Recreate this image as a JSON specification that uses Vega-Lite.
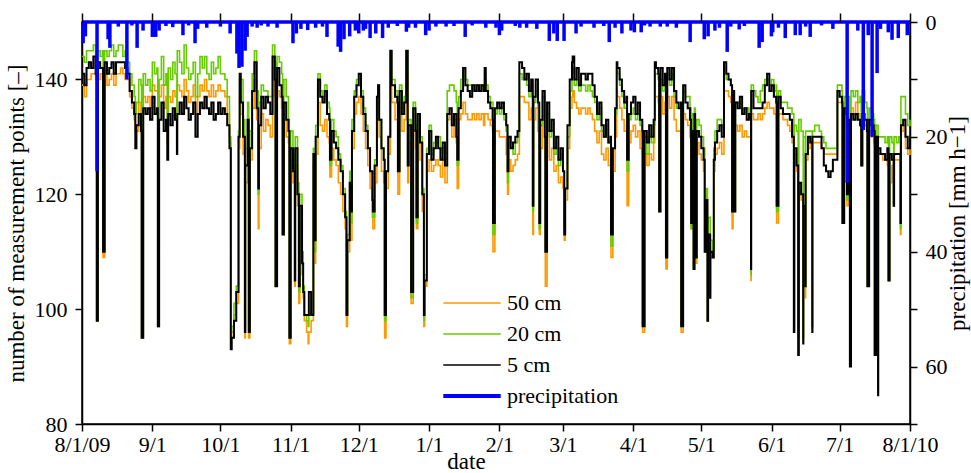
{
"$schema":"https://vega.github.io/schema/vega-lite/v6.json",
"width":828,"height":402,
"autosize":{"type":"none"},
"padding":{"left":82,"top":22,"right":61,"bottom":49},
"background":"white",
"config":{
 "font":"Liberation Serif",
 "view":{"stroke":"black","strokeWidth":1.5},
 "axis":{"labelFont":"Liberation Serif","titleFont":"Liberation Serif","labelFontSize":22,"titleFontSize":23,"titleFontWeight":"normal","labelColor":"black","titleColor":"black","domainColor":"black","tickColor":"black","domainWidth":1.5,"tickWidth":1.5,"tickSize":7,"grid":false,"labelFlush":false,"labelOverlap":false},
 "legend":{"labelFont":"Liberation Serif","labelFontSize":22,"labelColor":"black","orient":"none","legendX":379,"legendY":270,"symbolType":"M-5,0H5","symbolSize":132,"symbolStrokeWidth":1.6,"labelOffset":24,"rowPadding":9}
},
"resolve":{"scale":{"x":"independent","y":"independent"},"axis":{"x":"independent"}},
"layer":[
{
 "data":{"format":{"parse":{"t":"date:'%y%m%d%H'"}},"values":[
{"t":"09080100","o":139,"g":144,"k":141},{"t":"09080200","o":137,"g":143,"k":139},{"t":"09080300","o":140,"g":145,"k":142},{"t":"09080400","o":140,"g":145,"k":143},{"t":"09080500","o":141,"g":145,"k":142},{"t":"09080600","o":141,"g":146,"k":144},{"t":"09080700","o":140,"g":144,"k":141},{"t":"09080712","o":98,"g":98,"k":98},{"t":"09080800","o":140,"g":145,"k":143},{"t":"09080900","o":141,"g":144,"k":142},{"t":"09081000","o":140,"g":145,"k":142},{"t":"09081007","o":109,"g":110,"k":110},{"t":"09081100","o":141,"g":145,"k":143},{"t":"09081200","o":139,"g":144,"k":141},{"t":"09081300","o":140,"g":145,"k":142},{"t":"09081400","o":141,"g":146,"k":143},{"t":"09081500","o":139,"g":144,"k":141},{"t":"09081600","o":141,"g":145,"k":143},{"t":"09081700","o":141,"g":146,"k":143},{"t":"09081800","o":142,"g":146,"k":143},{"t":"09081900","o":141,"g":144,"k":143},{"t":"09082000","o":140,"g":145,"k":142},{"t":"09082100","o":140,"g":143,"k":141},{"t":"09082200","o":137,"g":141,"k":138},{"t":"09082300","o":135,"g":139,"k":136},{"t":"09082400","o":133,"g":137,"k":134},{"t":"09082412","o":131,"g":134,"k":128},{"t":"09082500","o":131,"g":136,"k":132},{"t":"09082600","o":136,"g":140,"k":134},{"t":"09082700","o":134,"g":139,"k":131},{"t":"09082707","o":95,"g":95,"k":95},{"t":"09082800","o":137,"g":141,"k":135},{"t":"09082900","o":136,"g":139,"k":134},{"t":"09083000","o":137,"g":140,"k":135},{"t":"09083100","o":135,"g":138,"k":133},
{"t":"09090100","o":139,"g":143,"k":137},{"t":"09090200","o":138,"g":141,"k":134},{"t":"09090300","o":138,"g":142,"k":135},{"t":"09090310","o":97,"g":97,"k":97},{"t":"09090400","o":137,"g":140,"k":133},{"t":"09090500","o":139,"g":144,"k":136},{"t":"09090600","o":135,"g":139,"k":131},{"t":"09090700","o":137,"g":141,"k":133},{"t":"09090714","o":129,"g":131,"k":126},{"t":"09090800","o":137,"g":142,"k":134},{"t":"09090900","o":136,"g":140,"k":132},{"t":"09091000","o":138,"g":143,"k":135},{"t":"09091100","o":137,"g":141,"k":133},{"t":"09091120","o":130,"g":133,"k":127},{"t":"09091200","o":139,"g":145,"k":134},{"t":"09091300","o":138,"g":143,"k":136},{"t":"09091400","o":137,"g":141,"k":134},{"t":"09091500","o":140,"g":146,"k":137},{"t":"09091600","o":138,"g":142,"k":135},{"t":"09091700","o":136,"g":140,"k":133},{"t":"09091800","o":137,"g":141,"k":134},{"t":"09091900","o":139,"g":143,"k":136},{"t":"09092000","o":134,"g":137,"k":130},{"t":"09092100","o":137,"g":141,"k":134},{"t":"09092200","o":139,"g":144,"k":136},{"t":"09092300","o":138,"g":142,"k":135},{"t":"09092400","o":140,"g":144,"k":137},{"t":"09092500","o":138,"g":141,"k":135},{"t":"09092600","o":137,"g":140,"k":134},{"t":"09092700","o":139,"g":143,"k":136},{"t":"09092800","o":137,"g":141,"k":133},{"t":"09092900","o":138,"g":142,"k":134},{"t":"09093000","o":139,"g":144,"k":136},
{"t":"09100100","o":138,"g":141,"k":134},{"t":"09100200","o":138,"g":141,"k":135},{"t":"09100300","o":137,"g":140,"k":134},{"t":"09100400","o":134,"g":137,"k":132},{"t":"09100500","o":129,"g":130,"k":128},{"t":"09100514","o":95,"g":96,"k":93},{"t":"09100600","o":96,"g":97,"k":95},{"t":"09100700","o":99,"g":101,"k":98},{"t":"09100800","o":101,"g":104,"k":103},{"t":"09100900","o":128,"g":131,"k":130},{"t":"09100912","o":137,"g":140,"k":141},{"t":"09101000","o":134,"g":140,"k":136},{"t":"09101100","o":127,"g":133,"k":130},{"t":"09101119","o":95,"g":97,"k":96},{"t":"09101200","o":122,"g":128,"k":125},{"t":"09101300","o":130,"g":136,"k":133},{"t":"09101312","o":95,"g":97,"k":96},{"t":"09101400","o":126,"g":131,"k":128},{"t":"09101500","o":135,"g":141,"k":138},{"t":"09101600","o":140,"g":145,"k":143},{"t":"09101700","o":133,"g":138,"k":135},{"t":"09101717","o":114,"g":120,"k":121},{"t":"09101800","o":128,"g":136,"k":132},{"t":"09101900","o":134,"g":139,"k":137},{"t":"09102000","o":131,"g":138,"k":135},{"t":"09102100","o":133,"g":138,"k":137},{"t":"09102200","o":132,"g":137,"k":136},{"t":"09102300","o":130,"g":137,"k":134},{"t":"09102400","o":142,"g":146,"k":144},{"t":"09102500","o":137,"g":143,"k":140},{"t":"09102507","o":104,"g":104,"k":104},{"t":"09102600","o":138,"g":144,"k":142},{"t":"09102700","o":137,"g":143,"k":139},{"t":"09102800","o":135,"g":141,"k":137},{"t":"09102810","o":113,"g":113,"k":113},{"t":"09102900","o":133,"g":140,"k":136},{"t":"09103000","o":130,"g":137,"k":133},{"t":"09103100","o":129,"g":133,"k":131},{"t":"09103110","o":94,"g":95,"k":95},
{"t":"09110100","o":126,"g":131,"k":128},{"t":"09110200","o":122,"g":127,"k":124},{"t":"09110219","o":104,"g":106,"k":105},{"t":"09110300","o":125,"g":130,"k":128},{"t":"09110400","o":118,"g":122,"k":120},{"t":"09110414","o":101,"g":103,"k":104},{"t":"09110500","o":115,"g":120,"k":118},{"t":"09110600","o":106,"g":110,"k":108},{"t":"09110612","o":102,"g":104,"k":103},{"t":"09110700","o":98,"g":99,"k":99},{"t":"09110800","o":96,"g":98,"k":99},{"t":"09110817","o":94,"g":97,"k":99},{"t":"09110900","o":96,"g":99,"k":103},{"t":"09111000","o":98,"g":99,"k":99},{"t":"09111100","o":125,"g":128,"k":127},{"t":"09111120","o":108,"g":110,"k":112},{"t":"09111200","o":127,"g":132,"k":130},{"t":"09111300","o":136,"g":141,"k":140},{"t":"09111400","o":132,"g":138,"k":137},{"t":"09111500","o":131,"g":137,"k":136},{"t":"09111600","o":133,"g":139,"k":138},{"t":"09111700","o":130,"g":136,"k":134},{"t":"09111800","o":129,"g":135,"k":133},{"t":"09111807","o":123,"g":125,"k":126},{"t":"09111900","o":128,"g":133,"k":131},{"t":"09112000","o":126,"g":131,"k":129},{"t":"09112100","o":125,"g":130,"k":128},{"t":"09112200","o":122,"g":127,"k":126},{"t":"09112300","o":120,"g":125,"k":124},{"t":"09112400","o":117,"g":121,"k":120},{"t":"09112500","o":114,"g":117,"k":116},{"t":"09112514","o":97,"g":99,"k":99},{"t":"09112600","o":110,"g":113,"k":112},{"t":"09112700","o":119,"g":124,"k":122},{"t":"09112705","o":112,"g":115,"k":117},{"t":"09112800","o":128,"g":133,"k":131},{"t":"09112900","o":134,"g":138,"k":137},{"t":"09113000","o":136,"g":140,"k":139},
{"t":"09120100","o":137,"g":141,"k":141},{"t":"09120200","o":134,"g":138,"k":137},{"t":"09120300","o":131,"g":135,"k":134},{"t":"09120400","o":128,"g":132,"k":131},{"t":"09120500","o":125,"g":128,"k":128},{"t":"09120600","o":121,"g":124,"k":124},{"t":"09120700","o":116,"g":119,"k":119},{"t":"09120705","o":114,"g":116,"k":117},{"t":"09120800","o":122,"g":126,"k":125},{"t":"09120900","o":134,"g":137,"k":137},{"t":"09120912","o":136,"g":139,"k":139},{"t":"09121000","o":130,"g":133,"k":133},{"t":"09121100","o":124,"g":128,"k":128},{"t":"09121200","o":122,"g":126,"k":126},{"t":"09121210","o":95,"g":98,"k":99},{"t":"09121300","o":121,"g":124,"k":124},{"t":"09121400","o":127,"g":130,"k":130},{"t":"09121422","o":140,"g":145,"k":145},{"t":"09121512","o":136,"g":140,"k":139},{"t":"09121600","o":136,"g":140,"k":139},{"t":"09121700","o":133,"g":138,"k":137},{"t":"09121800","o":133,"g":137,"k":136},{"t":"09121806","o":120,"g":124,"k":124},{"t":"09121900","o":135,"g":139,"k":138},{"t":"09122000","o":131,"g":135,"k":134},{"t":"09122100","o":133,"g":137,"k":136},{"t":"09122122","o":141,"g":145,"k":145},{"t":"09122214","o":122,"g":125,"k":125},{"t":"09122300","o":129,"g":133,"k":132},{"t":"09122402","o":101,"g":102,"k":103},{"t":"09122500","o":131,"g":136,"k":135},{"t":"09122600","o":128,"g":132,"k":131},{"t":"09122610","o":114,"g":115,"k":116},{"t":"09122700","o":131,"g":134,"k":134},{"t":"09122800","o":126,"g":130,"k":129},{"t":"09122900","o":117,"g":121,"k":120},{"t":"09122917","o":97,"g":98,"k":99},{"t":"09123000","o":104,"g":106,"k":105},{"t":"09123100","o":124,"g":128,"k":127},
{"t":"10010100","o":126,"g":132,"k":131},{"t":"10010200","o":124,"g":127,"k":126},{"t":"10010300","o":125,"g":129,"k":128},{"t":"10010400","o":126,"g":129,"k":130},{"t":"10010500","o":125,"g":130,"k":128},{"t":"10010600","o":123,"g":128,"k":126},{"t":"10010700","o":126,"g":128,"k":129},{"t":"10010800","o":122,"g":126,"k":125},{"t":"10010900","o":133,"g":138,"k":134},{"t":"10011000","o":134,"g":139,"k":135},{"t":"10011100","o":130,"g":139,"k":132},{"t":"10011200","o":133,"g":138,"k":134},{"t":"10011300","o":129,"g":136,"k":130},{"t":"10011310","o":121,"g":125,"k":126},{"t":"10011400","o":133,"g":137,"k":135},{"t":"10011500","o":134,"g":140,"k":138},{"t":"10011600","o":136,"g":142,"k":142},{"t":"10011700","o":134,"g":140,"k":139},{"t":"10011800","o":133,"g":139,"k":138},{"t":"10011900","o":133,"g":139,"k":137},{"t":"10012000","o":134,"g":138,"k":139},{"t":"10012100","o":133,"g":139,"k":138},{"t":"10012200","o":134,"g":138,"k":139},{"t":"10012300","o":133,"g":139,"k":138},{"t":"10012400","o":134,"g":139,"k":139},{"t":"10012500","o":132,"g":138,"k":138},{"t":"10012512","o":134,"g":140,"k":142},{"t":"10012600","o":134,"g":139,"k":138},{"t":"10012700","o":133,"g":137,"k":136},{"t":"10012800","o":132,"g":136,"k":135},{"t":"10012900","o":131,"g":136,"k":133},{"t":"10012904","o":110,"g":113,"k":115},{"t":"10013000","o":131,"g":134,"k":135},{"t":"10013100","o":131,"g":135,"k":136},
{"t":"10020100","o":130,"g":134,"k":135},{"t":"10020200","o":130,"g":135,"k":136},{"t":"10020300","o":130,"g":133,"k":134},{"t":"10020400","o":127,"g":131,"k":132},{"t":"10020414","o":120,"g":122,"k":124},{"t":"10020500","o":126,"g":130,"k":130},{"t":"10020600","o":124,"g":129,"k":128},{"t":"10020700","o":125,"g":127,"k":129},{"t":"10020800","o":126,"g":129,"k":130},{"t":"10020900","o":127,"g":130,"k":131},{"t":"10020919","o":137,"g":141,"k":143},{"t":"10021000","o":137,"g":141,"k":143},{"t":"10021100","o":137,"g":140,"k":142},{"t":"10021200","o":136,"g":141,"k":140},{"t":"10021300","o":136,"g":139,"k":141},{"t":"10021400","o":133,"g":137,"k":138},{"t":"10021500","o":135,"g":139,"k":140},{"t":"10021517","o":113,"g":117,"k":118},{"t":"10021600","o":133,"g":136,"k":137},{"t":"10021700","o":135,"g":138,"k":140},{"t":"10021800","o":131,"g":135,"k":136},{"t":"10021814","o":113,"g":114,"k":115},{"t":"10021900","o":128,"g":132,"k":133},{"t":"10022000","o":133,"g":137,"k":138},{"t":"10022100","o":126,"g":129,"k":130},{"t":"10022106","o":104,"g":110,"k":110},{"t":"10022200","o":131,"g":134,"k":136},{"t":"10022300","o":126,"g":130,"k":131},{"t":"10022400","o":128,"g":131,"k":133},{"t":"10022500","o":124,"g":127,"k":128},{"t":"10022600","o":125,"g":128,"k":130},{"t":"10022700","o":122,"g":125,"k":126},{"t":"10022800","o":123,"g":127,"k":128},
{"t":"10030100","o":121,"g":124,"k":124},{"t":"10030114","o":112,"g":114,"k":113},{"t":"10030200","o":119,"g":121,"k":121},{"t":"10030300","o":128,"g":130,"k":132},{"t":"10030400","o":135,"g":138,"k":140},{"t":"10030500","o":137,"g":141,"k":143},{"t":"10030507","o":138,"g":142,"k":144},{"t":"10030600","o":136,"g":139,"k":140},{"t":"10030700","o":135,"g":140,"k":142},{"t":"10030800","o":134,"g":138,"k":139},{"t":"10030900","o":135,"g":139,"k":141},{"t":"10031000","o":135,"g":139,"k":141},{"t":"10031100","o":134,"g":138,"k":140},{"t":"10031200","o":135,"g":139,"k":141},{"t":"10031300","o":134,"g":138,"k":141},{"t":"10031400","o":133,"g":137,"k":139},{"t":"10031500","o":131,"g":136,"k":137},{"t":"10031600","o":129,"g":133,"k":134},{"t":"10031700","o":131,"g":135,"k":136},{"t":"10031800","o":127,"g":131,"k":132},{"t":"10031900","o":126,"g":130,"k":130},{"t":"10032000","o":128,"g":132,"k":133},{"t":"10032100","o":125,"g":129,"k":129},{"t":"10032200","o":126,"g":130,"k":130},{"t":"10032205","o":109,"g":111,"k":113},{"t":"10032300","o":124,"g":128,"k":128},{"t":"10032400","o":130,"g":134,"k":135},{"t":"10032417","o":138,"g":142,"k":143},{"t":"10032500","o":137,"g":141,"k":142},{"t":"10032600","o":135,"g":139,"k":140},{"t":"10032700","o":133,"g":137,"k":138},{"t":"10032800","o":131,"g":135,"k":136},{"t":"10032900","o":132,"g":136,"k":137},{"t":"10032907","o":118,"g":124,"k":126},{"t":"10033000","o":129,"g":133,"k":134},{"t":"10033100","o":131,"g":134,"k":136},
{"t":"10040100","o":132,"g":135,"k":137},{"t":"10040200","o":130,"g":133,"k":134},{"t":"10040300","o":131,"g":134,"k":136},{"t":"10040400","o":128,"g":132,"k":133},{"t":"10040500","o":127,"g":130,"k":131},{"t":"10040503","o":96,"g":97,"k":97},{"t":"10040600","o":127,"g":130,"k":131},{"t":"10040700","o":125,"g":127,"k":129},{"t":"10040800","o":127,"g":130,"k":132},{"t":"10040900","o":126,"g":129,"k":130},{"t":"10041000","o":129,"g":132,"k":133},{"t":"10041012","o":137,"g":141,"k":143},{"t":"10041100","o":137,"g":141,"k":142},{"t":"10041200","o":136,"g":140,"k":141},{"t":"10041210","o":117,"g":117,"k":117},{"t":"10041300","o":137,"g":140,"k":142},{"t":"10041400","o":134,"g":138,"k":139},{"t":"10041500","o":136,"g":140,"k":141},{"t":"10041510","o":107,"g":109,"k":109},{"t":"10041600","o":137,"g":141,"k":142},{"t":"10041700","o":135,"g":139,"k":140},{"t":"10041800","o":137,"g":141,"k":142},{"t":"10041900","o":133,"g":137,"k":138},{"t":"10042000","o":131,"g":135,"k":136},{"t":"10042100","o":131,"g":135,"k":135},{"t":"10042200","o":131,"g":135,"k":136},{"t":"10042203","o":96,"g":97,"k":97},{"t":"10042300","o":134,"g":138,"k":139},{"t":"10042400","o":133,"g":137,"k":136},{"t":"10042500","o":132,"g":137,"k":135},{"t":"10042600","o":130,"g":135,"k":133},{"t":"10042612","o":114,"g":114,"k":115},{"t":"10042700","o":129,"g":134,"k":131},{"t":"10042714","o":107,"g":107,"k":107},{"t":"10042800","o":131,"g":135,"k":134},{"t":"10042807","o":108,"g":109,"k":109},{"t":"10042900","o":129,"g":133,"k":131},{"t":"10043000","o":127,"g":132,"k":130},
{"t":"10050100","o":126,"g":130,"k":128},{"t":"10050200","o":124,"g":128,"k":126},{"t":"10050212","o":110,"g":110,"k":110},{"t":"10050300","o":118,"g":121,"k":119},{"t":"10050317","o":98,"g":98,"k":98},{"t":"10050400","o":112,"g":116,"k":113},{"t":"10050422","o":102,"g":103,"k":102},{"t":"10050500","o":109,"g":112,"k":110},{"t":"10050600","o":109,"g":110,"k":109},{"t":"10050612","o":124,"g":128,"k":126},{"t":"10050700","o":127,"g":131,"k":129},{"t":"10050800","o":128,"g":133,"k":131},{"t":"10050900","o":129,"g":133,"k":132},{"t":"10051000","o":127,"g":132,"k":130},{"t":"10051100","o":138,"g":142,"k":143},{"t":"10051200","o":138,"g":140,"k":141},{"t":"10051300","o":137,"g":140,"k":140},{"t":"10051400","o":136,"g":139,"k":139},{"t":"10051414","o":114,"g":117,"k":117},{"t":"10051500","o":134,"g":137,"k":138},{"t":"10051512","o":117,"g":117,"k":117},{"t":"10051600","o":132,"g":136,"k":136},{"t":"10051700","o":131,"g":136,"k":135},{"t":"10051800","o":132,"g":136,"k":137},{"t":"10051900","o":130,"g":134,"k":134},{"t":"10052000","o":131,"g":135,"k":135},{"t":"10052100","o":130,"g":135,"k":133},{"t":"10052200","o":130,"g":134,"k":134},{"t":"10052222","o":105,"g":106,"k":107},{"t":"10052300","o":134,"g":139,"k":138},{"t":"10052400","o":133,"g":138,"k":135},{"t":"10052500","o":133,"g":137,"k":135},{"t":"10052600","o":134,"g":136,"k":135},{"t":"10052700","o":133,"g":138,"k":135},{"t":"10052800","o":134,"g":139,"k":136},{"t":"10052900","o":135,"g":140,"k":139},{"t":"10053000","o":136,"g":140,"k":141},{"t":"10053100","o":135,"g":139,"k":138},
{"t":"10060100","o":135,"g":140,"k":139},{"t":"10060200","o":134,"g":138,"k":137},{"t":"10060300","o":134,"g":139,"k":136},{"t":"10060305","o":115,"g":117,"k":118},{"t":"10060400","o":134,"g":138,"k":137},{"t":"10060500","o":134,"g":136,"k":135},{"t":"10060600","o":133,"g":136,"k":134},{"t":"10060700","o":133,"g":136,"k":134},{"t":"10060800","o":132,"g":135,"k":134},{"t":"10060900","o":131,"g":135,"k":133},{"t":"10061000","o":129,"g":134,"k":130},{"t":"10061019","o":96,"g":96,"k":96},{"t":"10061100","o":127,"g":132,"k":128},{"t":"10061200","o":124,"g":131,"k":125},{"t":"10061217","o":95,"g":95,"k":92},{"t":"10061300","o":121,"g":133,"k":122},{"t":"10061400","o":119,"g":131,"k":120},{"t":"10061422","o":95,"g":95,"k":94},{"t":"10061500","o":117,"g":130,"k":118},{"t":"10061522","o":102,"g":104,"k":104},{"t":"10061600","o":126,"g":131,"k":127},{"t":"10061700","o":128,"g":131,"k":130},{"t":"10061800","o":129,"g":131,"k":129},{"t":"10061822","o":97,"g":97,"k":96},{"t":"10061900","o":129,"g":131,"k":130},{"t":"10062000","o":129,"g":132,"k":130},{"t":"10062100","o":129,"g":132,"k":130},{"t":"10062200","o":129,"g":131,"k":130},{"t":"10062300","o":128,"g":130,"k":128},{"t":"10062400","o":127,"g":129,"k":125},{"t":"10062500","o":127,"g":128,"k":124},{"t":"10062600","o":127,"g":128,"k":123},{"t":"10062700","o":127,"g":128,"k":124},{"t":"10062800","o":127,"g":128,"k":126},{"t":"10062900","o":127,"g":128,"k":126},{"t":"10063000","o":136,"g":139,"k":138},
{"t":"10070100","o":136,"g":139,"k":137},{"t":"10070200","o":135,"g":138,"k":136},{"t":"10070205","o":115,"g":115,"k":115},{"t":"10070300","o":134,"g":137,"k":135},{"t":"10070400","o":133,"g":137,"k":134},{"t":"10070405","o":118,"g":119,"k":120},{"t":"10070500","o":133,"g":137,"k":133},{"t":"10070512","o":91,"g":91,"k":90},{"t":"10070600","o":135,"g":138,"k":134},{"t":"10070700","o":134,"g":137,"k":133},{"t":"10070800","o":136,"g":138,"k":134},{"t":"10070900","o":134,"g":136,"k":133},{"t":"10071000","o":133,"g":137,"k":132},{"t":"10071012","o":125,"g":125,"k":125},{"t":"10071100","o":133,"g":138,"k":134},{"t":"10071200","o":132,"g":136,"k":133},{"t":"10071300","o":131,"g":135,"k":131},{"t":"10071305","o":104,"g":104,"k":104},{"t":"10071400","o":131,"g":135,"k":133},{"t":"10071500","o":130,"g":134,"k":132},{"t":"10071600","o":129,"g":133,"k":131},{"t":"10071610","o":92,"g":92,"k":92},{"t":"10071700","o":128,"g":132,"k":130},{"t":"10071722","o":86,"g":86,"k":85},{"t":"10071800","o":127,"g":130,"k":128},{"t":"10071900","o":127,"g":130,"k":127},{"t":"10072000","o":126,"g":130,"k":127},{"t":"10072100","o":126,"g":129,"k":126},{"t":"10072200","o":125,"g":130,"k":128},{"t":"10072212","o":105,"g":105,"k":105},{"t":"10072300","o":122,"g":130,"k":127},{"t":"10072400","o":125,"g":129,"k":126},{"t":"10072419","o":118,"g":118,"k":118},{"t":"10072500","o":126,"g":130,"k":127},{"t":"10072600","o":126,"g":129,"k":127},{"t":"10072700","o":126,"g":130,"k":127},{"t":"10072719","o":113,"g":114,"k":115},{"t":"10072800","o":131,"g":137,"k":132},{"t":"10072900","o":132,"g":137,"k":133},{"t":"10073000","o":128,"g":134,"k":130},{"t":"10073100","o":127,"g":132,"k":128},{"t":"10080100","o":128,"g":133,"k":130}
 ]},
 "encoding":{"x":{"field":"t","type":"temporal","scale":{"domain":[{"year":2009,"month":8,"date":1},{"year":2010,"month":8,"date":1}],"nice":false},
   "axis":{"orient":"bottom","tickCount":{"interval":"month","step":1},"labelExpr":"month(datum.value)==7 ? timeFormat(datum.value,'%-m/%-d/%y') : timeFormat(datum.value,'%-m/%-d')","labelPadding":3,"title":"date","titleX":384,"titlePadding":-5}}},
 "layer":[
  {"mark":{"type":"line","strokeWidth":1.6,"interpolate":"step-after"},
   "encoding":{
    "y":{"field":"o","type":"quantitative","scale":{"domain":[80,150],"nice":false,"zero":false},"axis":{"orient":"left","values":[80,100,120,140],"labelPadding":8,"title":"number of measurement points [–]","titlePadding":6}},
    "color":{"datum":"50 cm","type":"nominal","scale":{"domain":["50 cm","20 cm","5 cm","precipitation"],"range":["#ff9900","#66cc00","#000000","#0000ff"]},"legend":{"title":null,"encode":{"symbols":{"update":{"strokeWidth":{"signal":"datum.value === 'precipitation' ? 4 : 1.6"}}}}}}}},
  {"mark":{"type":"line","strokeWidth":1.6,"interpolate":"step-after"},
   "encoding":{
    "y":{"field":"g","type":"quantitative","scale":{"domain":[80,150],"nice":false,"zero":false},"axis":{"orient":"left","values":[80,100,120,140],"labelPadding":8,"title":"number of measurement points [–]","titlePadding":6}},
    "color":{"datum":"20 cm","type":"nominal","scale":{"domain":["50 cm","20 cm","5 cm","precipitation"],"range":["#ff9900","#66cc00","#000000","#0000ff"]},"legend":{"title":null,"encode":{"symbols":{"update":{"strokeWidth":{"signal":"datum.value === 'precipitation' ? 4 : 1.6"}}}}}}}},
  {"mark":{"type":"line","strokeWidth":2,"interpolate":"step-after"},
   "encoding":{
    "y":{"field":"k","type":"quantitative","scale":{"domain":[80,150],"nice":false,"zero":false},"axis":{"orient":"left","values":[80,100,120,140],"labelPadding":8,"title":"number of measurement points [–]","titlePadding":6}},
    "color":{"datum":"5 cm","type":"nominal","scale":{"domain":["50 cm","20 cm","5 cm","precipitation"],"range":["#ff9900","#66cc00","#000000","#0000ff"]},"legend":{"title":null,"encode":{"symbols":{"update":{"strokeWidth":{"signal":"datum.value === 'precipitation' ? 4 : 1.6"}}}}}}}}
 ]
},
{
 "layer":[
  {"data":{"format":{"parse":{"t":"date:'%y%m%d%H'"}},"values":[
{"t":"09080112","p":3.7},{"t":"09080212","p":2.5},{"t":"09080715","p":26},{"t":"09081212","p":3},{"t":"09081307","p":4.5},{"t":"09081700","p":0.8},{"t":"09082019","p":10},{"t":"09082300","p":0.6},{"t":"09082507","p":4.5},{"t":"09082722","p":1.5},{"t":"09090100","p":2.6},{"t":"09090212","p":2.6},{"t":"09090400","p":1.5},{"t":"09090700","p":0.7},{"t":"09091000","p":0.9},{"t":"09091412","p":2.3},{"t":"09091700","p":0.6},{"t":"09091920","p":3.7},{"t":"09092100","p":1.2},{"t":"09092500","p":1},{"t":"09100100","p":0.8},{"t":"09100507","p":2},{"t":"09100807","p":5.5},{"t":"09100905","p":8},{"t":"09101012","p":7.8},{"t":"09101122","p":5},{"t":"09101219","p":2.6},{"t":"09101500","p":0.8},{"t":"09101705","p":1},{"t":"09101900","p":0.6},{"t":"09102200","p":0.8},{"t":"09102600","p":1},{"t":"09110200","p":3.7},{"t":"09110312","p":2},{"t":"09110512","p":1.2},{"t":"09110812","p":1.4},{"t":"09111200","p":1},{"t":"09111500","p":0.8},{"t":"09111700","p":2.6},{"t":"09112122","p":4.3},{"t":"09112300","p":5.2},{"t":"09112412","p":3},{"t":"09112700","p":2.5},{"t":"09112912","p":1.5},{"t":"09120100","p":2},{"t":"09120300","p":1.5},{"t":"09120400","p":1.2},{"t":"09120600","p":2.8},{"t":"09120812","p":2},{"t":"09121112","p":2.8},{"t":"09121400","p":1},{"t":"09121800","p":0.7},{"t":"09122200","p":1.7},{"t":"09122300","p":1},{"t":"09122600","p":1},{"t":"09123012","p":2.3},{"t":"10010100","p":1.5},{"t":"10010400","p":0.8},{"t":"10010812","p":0.8},{"t":"10011200","p":0.7},{"t":"10011622","p":2.6},{"t":"10012000","p":0.6},{"t":"10012600","p":1},{"t":"10013012","p":1},{"t":"10020100","p":2.3},{"t":"10020200","p":1.5},{"t":"10020800","p":0.7},{"t":"10021000","p":1},{"t":"10021300","p":1},{"t":"10021712","p":1.2},{"t":"10022300","p":3.3},{"t":"10022500","p":2},{"t":"10022612","p":3.3},{"t":"10030112","p":3.3},{"t":"10030619","p":2},{"t":"10030900","p":0.8},{"t":"10031417","p":1},{"t":"10031900","p":0.7},{"t":"10032110","p":3.5},{"t":"10032400","p":1},{"t":"10032700","p":2},{"t":"10033100","p":1.5},{"t":"10040112","p":1.8},{"t":"10040412","p":1.8},{"t":"10040600","p":0.6},{"t":"10040810","p":0.8},{"t":"10041222","p":0.8},{"t":"10041600","p":0.8},{"t":"10042000","p":1},{"t":"10042602","p":3.5},{"t":"10050207","p":3},{"t":"10050400","p":2.5},{"t":"10050700","p":1.5},{"t":"10050900","p":1},{"t":"10051210","p":5.2},{"t":"10051400","p":0.8},{"t":"10051717","p":1.3},{"t":"10052000","p":0.7},{"t":"10052612","p":4.5},{"t":"10052720","p":3.5},{"t":"10053122","p":2.5},{"t":"10060112","p":1.8},{"t":"10060400","p":1},{"t":"10060700","p":2.8},{"t":"10061110","p":2.3},{"t":"10061314","p":2.3},{"t":"10061600","p":0.8},{"t":"10061800","p":2.6},{"t":"10062300","p":0.6},{"t":"10062800","p":1.2},{"t":"10070407","p":28},{"t":"10070900","p":1.5},{"t":"10071110","p":18.8},{"t":"10071314","p":2.3},{"t":"10071507","p":20},{"t":"10071712","p":8.9},{"t":"10071900","p":1.2},{"t":"10072210","p":1.8},{"t":"10072402","p":3.1},{"t":"10072620","p":2.8},{"t":"10073019","p":2.3}
  ]},
   "mark":{"type":"rule","strokeWidth":3.5},
   "encoding":{
    "x":{"field":"t","type":"temporal","scale":{"domain":[{"year":2009,"month":8,"date":1},{"year":2010,"month":8,"date":1}],"nice":false},
      "axis":{"orient":"top","labels":false,"ticks":true,"tickSize":9,"tickColor":"black","zindex":2,"title":null,"domain":false,
        "values":[{"year":2009,"month":8,"date":1},{"year":2009,"month":9,"date":1},{"year":2009,"month":10,"date":1},{"year":2009,"month":11,"date":1},{"year":2009,"month":12,"date":1},{"year":2010,"month":1,"date":1},{"year":2010,"month":2,"date":1},{"year":2010,"month":3,"date":1},{"year":2010,"month":4,"date":1},{"year":2010,"month":5,"date":1},{"year":2010,"month":6,"date":1},{"year":2010,"month":7,"date":1},{"year":2010,"month":8,"date":1}]}},
    "y":{"field":"p","type":"quantitative","scale":{"domain":[0,70],"reverse":true,"nice":false},
      "axis":{"orient":"right","values":[0,10,20,30,40,50,60,70],"labelExpr":"datum.value % 20 === 0 ? datum.label : ''","labelPadding":8,"title":"precipitation [mm h−1]","titleAngle":270,"titleBaseline":"top","titlePadding":-1}},
    "y2":{"datum":0},
    "color":{"datum":"precipitation","type":"nominal","scale":{"domain":["50 cm","20 cm","5 cm","precipitation"],"range":["#ff9900","#66cc00","#000000","#0000ff"]},"legend":{"title":null,"encode":{"symbols":{"update":{"strokeWidth":{"signal":"datum.value === 'precipitation' ? 4 : 1.6"}}}}}}}},
  {"data":{"values":[{}]},
   "mark":{"type":"rule","color":"#0000ff","strokeWidth":3.5},
   "encoding":{"y":{"datum":0,"type":"quantitative","scale":{"domain":[0,70],"reverse":true,"nice":false},
      "axis":{"orient":"right","values":[0,10,20,30,40,50,60,70],"labelExpr":"datum.value % 20 === 0 ? datum.label : ''","labelPadding":8,"title":"precipitation [mm h−1]","titleAngle":270,"titleBaseline":"top","titlePadding":-1}}}}
 ]
}
]
}
